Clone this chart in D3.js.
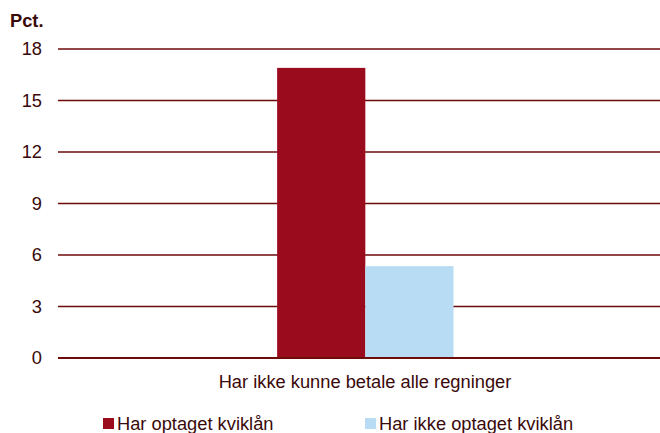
<!DOCTYPE html>
<html>
<head>
<meta charset="utf-8">
<script src="https://cdn.jsdelivr.net/npm/d3@7"></script>
<style>
  body { margin: 0; background: #fff; }
  svg { display: block; font-family: Arial, "Liberation Sans", sans-serif; }
</style>
</head>
<body>
<div id="chart"></div>
<script>
// Data
const categories = ['Har ikke kunne betale alle regninger'];
const seriesNames = ['Har optaget kviklån', 'Har ikke optaget kviklån'];
const seriesValues = [[16.9], [5.35]];
const yTicks = [0, 3, 6, 9, 12, 15, 18];
const colors = ['#9b0b1e', '#b8dcf3'];

const width = 660, height = 433;
const margin = { top: 49, right: 0, bottom: 75, left: 58 };
const textColor = '#3a0a0a';
const gridColor = '#6e0b0b';
const fontSize = 18.3;

const svg = d3.select('#chart').append('svg')
  .attr('width', width)
  .attr('height', height);

const y = d3.scaleLinear()
  .domain([0, 18])
  .range([358, 49]);

const x0 = d3.scaleBand()
  .domain(categories)
  .range([margin.left, width])
  .paddingInner(0)
  .paddingOuter(0);

const x1 = d3.scaleBand()
  .domain(seriesNames)
  .range([x0.bandwidth() * 0.364, x0.bandwidth() * 0.657]);

// Gridlines
svg.append('g')
  .selectAll('line')
  .data(yTicks)
  .join('line')
  .attr('x1', margin.left)
  .attr('x2', width)
  .attr('y1', d => y(d))
  .attr('y2', d => y(d))
  .attr('stroke', gridColor)
  .attr('stroke-width', d => d === 0 ? 2 : 1.6);

// Y tick labels
svg.append('g')
  .selectAll('text')
  .data(yTicks)
  .join('text')
  .attr('x', 42)
  .attr('y', d => y(d))
  .attr('dy', '0.35em')
  .attr('text-anchor', 'end')
  .attr('fill', textColor)
  .attr('font-size', fontSize)
  .text(d => d);

// Unit label
svg.append('text')
  .attr('x', 10)
  .attr('y', 27)
  .attr('fill', textColor)
  .attr('font-size', fontSize)
  .attr('font-weight', 'bold')
  .text('Pct.');

// Bars
const groups = svg.append('g')
  .selectAll('g')
  .data(categories)
  .join('g')
  .attr('transform', d => `translate(${x0(d)},0)`);

groups.selectAll('rect')
  .data((d, i) => seriesNames.map((s, j) => ({ series: s, value: seriesValues[j][i], color: colors[j] })))
  .join('rect')
  .attr('x', d => x1(d.series))
  .attr('width', x1.bandwidth())
  .attr('y', d => y(d.value))
  .attr('height', d => y(0) - y(d.value) - 1)
  .attr('fill', d => d.color);

// Category labels
svg.append('g')
  .selectAll('text')
  .data(categories)
  .join('text')
  .attr('x', d => x0(d) + x0.bandwidth() / 2 + 6)
  .attr('y', 388)
  .attr('text-anchor', 'middle')
  .attr('fill', textColor)
  .attr('font-size', fontSize)
  .text(d => d);

// Legend
const legendX = [103, 365];
const legend = svg.append('g')
  .selectAll('g')
  .data(seriesNames)
  .join('g')
  .attr('transform', (d, i) => `translate(${legendX[i]},418)`);

legend.append('rect')
  .attr('width', 11)
  .attr('height', 11)
  .attr('fill', (d, i) => colors[i]);

legend.append('text')
  .attr('x', 14)
  .attr('y', 12)
  .attr('fill', textColor)
  .attr('font-size', fontSize)
  .text(d => d);
</script>
</body>
</html>
